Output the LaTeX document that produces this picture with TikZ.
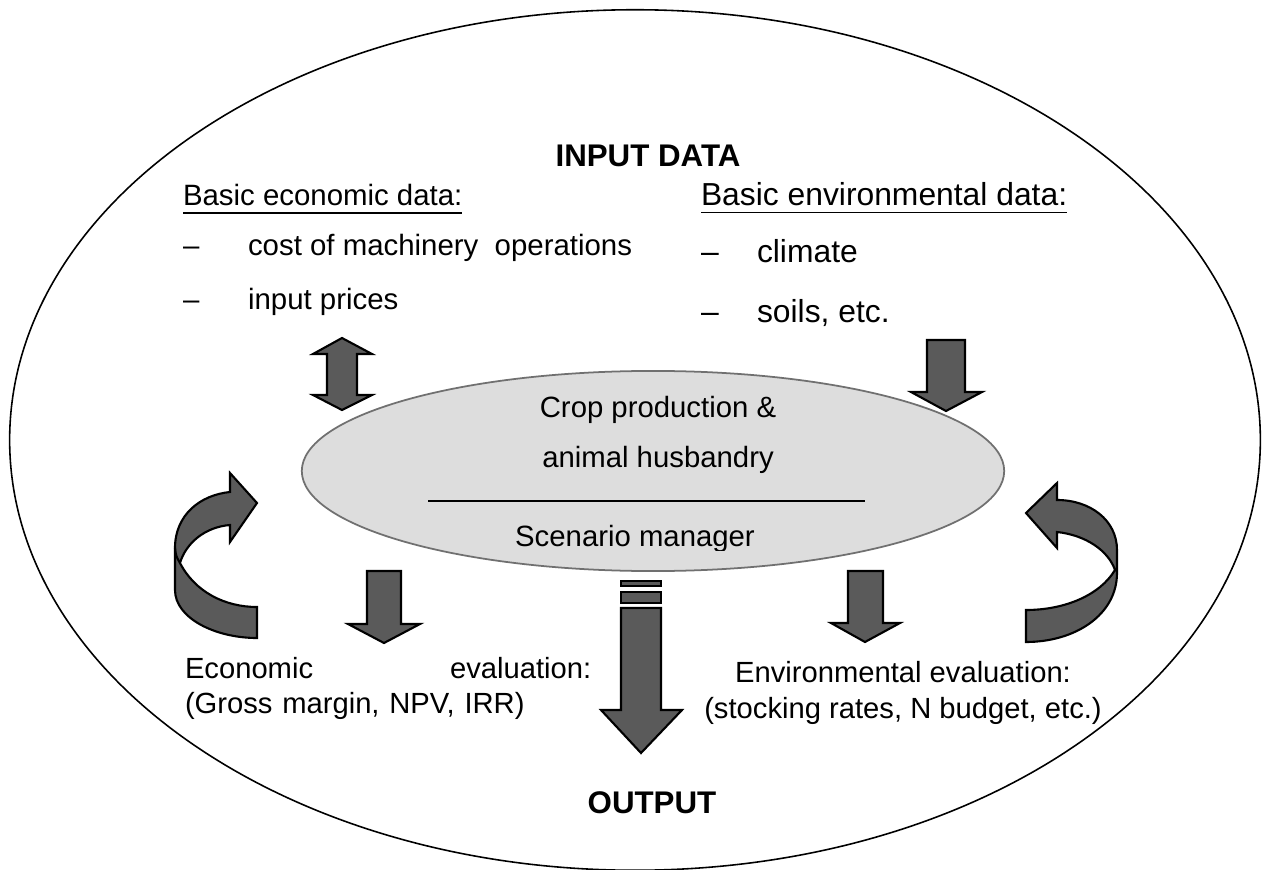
\documentclass[tikz,border=0pt]{standalone}
\usepackage{fontspec}
\setmainfont{Liberation Sans}
\usetikzlibrary{shapes.geometric}
\definecolor{arrowgray}{HTML}{5A5A5A}
\definecolor{corefill}{HTML}{DDDDDD}
\definecolor{coreline}{HTML}{707070}
\tikzset{
  blockarrow/.style={fill=arrowgray, draw=black, line width=0.6pt, line join=miter},
  txt/.style={inner sep=0pt, outer sep=0pt},
  econ/.style={txt, anchor=base west, font=\fontsize{8.36}{10}\selectfont},
  envi/.style={txt, anchor=base west, font=\fontsize{9.05}{11}\selectfont},
  coretxt/.style={txt, anchor=base, font=\fontsize{8.34}{10}\selectfont},
  evaltxt/.style={txt, font=\fontsize{8.3}{9.96}\selectfont},
  headtxt/.style={txt, anchor=base, font=\fontsize{8.9}{10.5}\selectfont\bfseries},
  uline/.style={line width=0.55pt}
}
\begin{document}
\begin{tikzpicture}[x=0.01cm, y=-0.01cm]
\useasboundingbox (0,0) rectangle (1263,870);
% outer ellipse
\node[draw, line width=0.45pt, ellipse, minimum width=12.5cm, minimum height=8.6cm, inner sep=0pt] (outer) at (635,440) {};
% headings
\node[headtxt] (input) at (648,167) {INPUT DATA};
\node[headtxt] (output) at (652,813) {OUTPUT};
% economic data
\node[econ] (econhead) at (183,206) {Basic economic data:};
\draw[uline] ([yshift=-0.07cm]econhead.base west) -- ([yshift=-0.07cm]econhead.base east);
\node[econ] (cost) at (183,255) {\makebox[0.65cm][l]{–}cost of machinery\ \ operations};
\node[econ] (prices) at (183,310) {\makebox[0.65cm][l]{–}input prices};
% environmental data
\node[envi] (envhead) at (701,206) {Basic environmental data:};
\draw[uline] ([yshift=-0.065cm]envhead.base west) -- ([yshift=-0.065cm]envhead.base east);
\node[envi] (climate) at (701,263) {\makebox[0.56cm][l]{–}climate};
\node[envi] (soils) at (701,323) {\makebox[0.56cm][l]{–}soils, etc.};
% core ellipse
\node[draw=coreline, fill=corefill, line width=0.5pt, ellipse, minimum width=7.02cm, minimum height=2.0cm, inner sep=0pt] (core) at (653,471) {};
\node[coretxt] (crop) at (658,417) {Crop production \&};
\node[coretxt] (animal) at (658,467) {animal husbandry};
\coordinate (sepl) at (428,501);
\coordinate (sepr) at (865,501);
\draw[line width=0.5pt] (sepl) -- (sepr);
\begin{scope}
\clip (300,380) rectangle (1004,550);
\node[coretxt] (scen) at (635,547) {Scenario manager};
\end{scope}
% evaluations
\node[evaltxt, anchor=base west, text width=4.06cm, align=left] (econeval) at (185,678) {Economic\hfill evaluation:\\(Gross margin, NPV, IRR)};
\node[evaltxt, anchor=base, align=center] (enveval) at (903,718) {Environmental evaluation:\\(stocking rates, N budget, etc.)};
% double arrow
\draw[blockarrow] (342,338) -- (372,354) -- (357,354) -- (357,395) -- (372,395) -- (342,410) -- (313,395) -- (327,395) -- (327,354) -- (313,354) -- cycle;
% upper right down arrow
\draw[blockarrow] (927,340) -- (965,340) -- (965,392) -- (982,392) -- (946,411) -- (911,392) -- (927,392) -- cycle;
% lower left down arrow
\draw[blockarrow] (367,571) -- (401,571) -- (401,624) -- (420,624) -- (384,643) -- (348,624) -- (367,624) -- cycle;
% lower right down arrow
\draw[blockarrow] (848,571) -- (883,571) -- (883,623) -- (900,623) -- (865,642) -- (831,623) -- (848,623) -- cycle;
% output arrow with stripes
\draw[blockarrow] (621,581) rectangle (661,586);
\draw[blockarrow] (621,592) rectangle (661,603);
\draw[blockarrow] (621,608) -- (661,608) -- (661,710) -- (682,710) -- (641,753) -- (601,710) -- (621,710) -- cycle;
% left curved arrow
\draw[blockarrow] (257,638) .. controls (215,638) and (175,618) .. (175,590) -- (175,548)
  .. controls (175,515) and (200,495) .. (230,492) -- (230,473) -- (257,503) -- (230,542) -- (230,525)
  .. controls (205,527) and (186,543) .. (180,563) .. controls (195,592) and (225,607) .. (257,607) -- cycle;
\draw[line width=0.6pt] (175,548) .. controls (176,556) .. (180,563);
% right curved arrow
\draw[blockarrow] (1026,642) .. controls (1075,642) and (1117,615) .. (1117,573) -- (1117,550)
  .. controls (1117,520) and (1090,500) .. (1057,500) -- (1057,483) -- (1026,513) -- (1057,548) -- (1057,532)
  .. controls (1085,535) and (1108,550) .. (1115,570) .. controls (1100,595) and (1065,610) .. (1026,610) -- cycle;
\end{tikzpicture}
\end{document}
